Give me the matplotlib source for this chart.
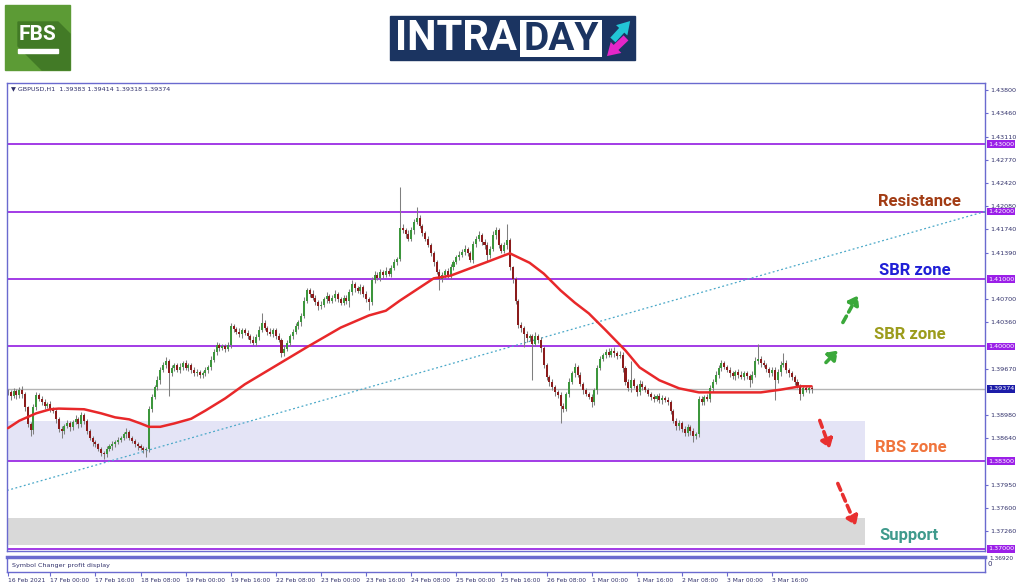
import numpy as np
import matplotlib.pyplot as plt
from matplotlib.patches import Rectangle, Polygon

# prices stored as pips above 1.38000
BASE = 1.38
FIRST_OPEN = 133

close_pips = [
    132, 126, 134, 128, 136, 129, 110, 85, 76, 110, 128, 122, 118, 112, 115, 108, 105, 92, 78, 75,
    82, 86, 80, 88, 92, 85, 98, 90, 75, 65, 58, 55, 48, 42, 40, 48, 52, 55, 58, 62,
    65, 70, 74, 65, 60, 55, 52, 50, 46, 48, 108, 125, 140, 150, 165, 172, 178, 160, 168, 172,
    165, 170, 175, 168, 172, 165, 160, 162, 158, 160, 165, 170, 180, 192, 202, 198, 200, 196, 202, 230,
    226, 222, 218, 224, 220, 215, 210, 205, 214, 225, 235, 228, 222, 218, 224, 216, 210, 190, 196, 205,
    215, 222, 230, 236, 245, 268, 283, 278, 272, 266, 260, 262, 270, 275, 268, 272, 278, 270, 265, 272,
    268, 280, 292, 286, 282, 288, 278, 270, 266, 298, 306, 302, 310, 306, 312, 308, 316, 325, 330, 376,
    372, 366, 360, 372, 385, 390, 378, 368, 360, 350, 338, 325, 310, 300, 306, 312, 304, 318, 325, 332,
    336, 340, 345, 338, 328, 352, 360, 365, 355, 350, 335, 345, 365, 372, 350, 342, 350, 358, 318, 300,
    268, 232, 228, 218, 212, 215, 204, 215, 210, 198, 172, 155, 148, 140, 132, 128, 112, 108, 130, 148,
    160, 170, 158, 145, 135, 130, 125, 118, 135, 168, 182, 188, 192, 188, 194, 190, 186, 188, 168, 148,
    138, 150, 142, 132, 145, 140, 135, 130, 125, 122, 126, 120, 124, 121, 118, 105, 90, 82, 86, 78,
    72, 80, 75, 68, 70, 122, 118, 125, 122, 138, 148, 158, 168, 175, 170, 165, 160, 156, 162, 158,
    155, 160, 156, 150, 158, 178, 182, 175, 172, 166, 160, 165, 150, 162, 172, 176, 165, 160, 155, 148,
    142, 130, 138, 135, 138.3, 137.4,
]

up_wick = [
    4, 3, 5, 3, 4, 6, 3, 2, 3, 5, 4, 3, 5, 4, 3, 4, 3, 2, 3, 4,
    3, 5, 4, 3, 6, 3, 5, 4, 2, 3, 3, 4, 2, 3, 3, 4, 3, 5, 3, 4,
    3, 4, 5, 3, 2, 3, 4, 3, 2, 3, 4, 5, 3, 6, 4, 5, 6, 4, 5, 3,
    4, 6, 3, 5, 4, 3, 4, 5, 3, 4, 5, 3, 6, 4, 5, 3, 4, 3, 4, 5,
    4, 3, 5, 4, 3, 4, 3, 5, 4, 6, 14, 4, 3, 5, 4, 3, 4, 3, 4, 5,
    3, 4, 5, 3, 4, 5, 4, 3, 5, 4, 3, 6, 4, 5, 3, 4, 6, 3, 4, 5,
    4, 5, 6, 3, 4, 5, 3, 4, 3, 5, 6, 4, 5, 3, 6, 4, 5, 4, 3, 60,
    5, 4, 6, 5, 4, 16, 5, 4, 3, 4, 3, 4, 3, 5, 4, 3, 5, 4, 3, 4,
    5, 4, 6, 3, 4, 5, 4, 6, 3, 4, 5, 4, 6, 5, 3, 4, 5, 24, 3, 2,
    3, 2, 4, 3, 5, 3, 4, 6, 3, 4, 3, 4, 3, 4, 3, 4, 5, 4, 3, 5,
    4, 6, 3, 4, 3, 4, 3, 5, 4, 5, 4, 3, 5, 6, 4, 5, 3, 6, 4, 3,
    4, 29, 4, 3, 5, 4, 3, 4, 3, 4, 3, 5, 4, 3, 4, 3, 3, 4, 5, 3,
    4, 5, 3, 4, 3, 5, 4, 3, 4, 5, 4, 6, 4, 5, 4, 3, 5, 4, 3, 4,
    5, 3, 4, 3, 5, 6, 22, 4, 5, 4, 3, 4, 5, 4, 6, 14, 4, 3, 4, 3,
    4, 3, 4, 3, 3, 3.1,
]

dn_wick = [
    4, 5, 3, 6, 4, 5, 6, 4, 8, 5, 4, 3, 5, 4, 3, 5, 4, 6, 5, 11,
    4, 3, 5, 4, 3, 6, 4, 5, 4, 3, 5, 4, 3, 4, 6, 4, 3, 5, 4, 3,
    4, 3, 5, 4, 3, 4, 5, 3, 4, 9, 4, 5, 3, 4, 5, 3, 4, 33, 4, 5,
    3, 4, 5, 3, 4, 5, 4, 3, 5, 4, 3, 4, 5, 3, 4, 5, 3, 4, 3, 4,
    5, 3, 4, 5, 3, 4, 5, 3, 4, 5, 3, 4, 5, 3, 4, 5, 4, 6, 4, 3,
    5, 4, 3, 4, 5, 3, 4, 5, 3, 4, 6, 4, 3, 5, 4, 3, 5, 4, 3, 4,
    5, 10, 4, 5, 3, 4, 5, 4, 12, 5, 4, 3, 5, 4, 3, 4, 5, 3, 4, 4,
    4, 5, 3, 4, 5, 4, 3, 5, 4, 3, 4, 5, 3, 17, 4, 5, 3, 4, 5, 3,
    4, 3, 5, 4, 3, 4, 5, 3, 4, 5, 8, 4, 3, 5, 4, 3, 4, 5, 4, 6,
    5, 4, 6, 19, 5, 4, 54, 4, 5, 6, 4, 5, 6, 4, 5, 4, 26, 5, 4, 5,
    4, 5, 3, 4, 5, 4, 3, 8, 4, 5, 3, 4, 5, 3, 4, 5, 4, 3, 6, 5,
    4, 5, 3, 6, 4, 5, 3, 4, 5, 4, 3, 4, 5, 3, 4, 5, 4, 6, 5, 4,
    5, 4, 6, 10, 5, 4, 5, 4, 3, 4, 5, 3, 4, 5, 4, 3, 5, 4, 6, 4,
    3, 5, 4, 10, 4, 3, 4, 5, 3, 4, 5, 4, 30, 4, 5, 3, 4, 5, 4, 5,
    4, 10, 4, 3, 4, 5.6,
]

# moving average read at a subset of bars
ma_bar = [0, 4, 10, 15, 18, 27, 33, 38, 43, 47, 50, 54, 59, 65, 70, 77, 84, 92, 98, 106,
          118, 128, 134, 139, 143, 151, 157, 164, 171, 176, 178, 185, 190, 196, 201, 206,
          212, 219, 224, 231, 238, 245, 252, 260, 267, 274, 281, 285]
ma_pips = [79, 90, 101, 107, 108, 107, 101, 95, 92, 86, 81, 81, 86, 93, 105, 123, 144, 164, 179, 199,
           228, 246, 253, 268, 279, 301, 305, 316, 327, 335, 338, 324, 308, 283, 265, 249,
           224, 194, 169, 150, 138, 132, 132, 132, 132, 136, 141, 141]

levels = [1.43, 1.42, 1.41, 1.40, 1.383, 1.37]
last_price = 1.39374
trend_bars = [-0.35, 346.5]
trend_prices = [1.37867, 1.42]
rbs_zone = (1.383, 1.38889)
support_zone = (1.37052, 1.37452)
zone_end_bar = 304

# right-axis grid labels (the ones hidden behind level boxes are left out)
y_ticks = [1.4380, 1.4346, 1.4311, 1.4277, 1.4242, 1.4208, 1.4174, 1.4139, 1.4070,
           1.4036, 1.3967, 1.3898, 1.3864, 1.3795, 1.3760, 1.3726]
x_tick_bars = [0, 15, 31, 47, 63, 79, 95, 111, 127, 143, 159, 175, 191, 207, 223, 239, 255, 271]
x_tick_labels = ['16 Feb 2021', '17 Feb 00:00', '17 Feb 16:00', '18 Feb 08:00', '19 Feb 00:00',
                 '19 Feb 16:00', '22 Feb 08:00', '23 Feb 00:00', '23 Feb 16:00', '24 Feb 08:00',
                 '25 Feb 00:00', '25 Feb 16:00', '26 Feb 08:00', '1 Mar 00:00', '1 Mar 16:00',
                 '2 Mar 08:00', '3 Mar 00:00', '3 Mar 16:00']

zone_texts = ['Resistance', 'SBR zone', 'SBR zone', 'RBS zone', 'Support']
zone_text_bars = [323.4, 321.6, 319.9, 320.2, 319.5]
zone_text_prices = [1.42148, 1.41126, 1.40178, 1.38504, 1.37193]
zone_text_colors = ['#a23c14', '#1f1fd6', '#9c9c1c', '#f0743c', '#3f9a8c']

arrow_tails = [(296.1, 1.40356), (290.1, 1.39763), (287.9, 1.38904), (294.3, 1.37970)]
arrow_heads = [(301.4, 1.40756), (294.3, 1.39941), (291.5, 1.38489), (300.7, 1.37348)]
arrow_colors = ['#3aa83a', '#3aa83a', '#e83030', '#e83030']

LINE = '#a23be6'
FRAME = '#6a6acf'
TXT = '#30306a'

# build OHLC
c = BASE + np.array(close_pips) / 10000
o = BASE + np.array([FIRST_OPEN] + close_pips[:-1]) / 10000
h = np.maximum(o, c) + np.array(up_wick) / 10000
l = np.minimum(o, c) - np.array(dn_wick) / 10000
idx = np.arange(len(c))

W, H = 1024, 587
fig = plt.figure(figsize=(W / 100, H / 100), dpi=100)
fig.patch.set_facecolor('white')

ax = fig.add_axes([7 / W, 1 - 551 / H, 978 / W, 468 / H])
ax.set_xlim(-0.35, 346.5)
ax.set_ylim(1.3697, 1.43904)

ax.fill_between([-0.35, zone_end_bar], *rbs_zone, color='#e4e4f6', lw=0, zorder=0.5)
ax.fill_between([-0.35, zone_end_bar], *support_zone, color='#d9d9d9', lw=0, zorder=0.5)
for lv in levels:
    ax.axhline(lv, color=LINE, lw=1.4, zorder=1)
ax.axhline(last_price, color='#b4b4b4', lw=1, zorder=1)
ax.plot(trend_bars, trend_prices, ls=(0, (1.5, 2)), color='#4aa8c8', lw=0.9, zorder=1.5)

# candles
ax.vlines(idx, l, h, color='#7f7f7f', lw=0.75, zorder=2)
body = np.maximum(np.abs(c - o), 0.00004)
cols = np.where(c >= o, '#3c963c', '#8b1c1c')
ax.bar(idx, body, bottom=np.minimum(o, c), width=0.72, color=cols, zorder=2.5)

ma_price = BASE + np.array(ma_pips) / 10000
ax.plot(ma_bar, ma_price, color='#e8282a', lw=1.8, zorder=3, solid_capstyle='round')

for t, bx, py, col in zip(zone_texts, zone_text_bars, zone_text_prices, zone_text_colors):
    ax.text(bx, py, t, color=col, fontsize=12, fontweight='bold', family='Roboto',
            ha='center', va='center', zorder=5)

for tail, head, col in zip(arrow_tails, arrow_heads, arrow_colors):
    ax.annotate('', xy=head, xytext=tail,
                arrowprops=dict(arrowstyle='-|>,head_width=0.35,head_length=0.5',
                                ls=(0, (2, 1.3)), lw=2.6, color=col, shrinkA=0, shrinkB=0))

ax.text(0.004, 0.992, '\u25bc GBPUSD,H1  1.39383 1.39414 1.39318 1.39374', transform=ax.transAxes,
        fontsize=4.6, color=TXT, ha='left', va='top')

# axes styling
for s in ax.spines.values():
    s.set_color(FRAME)
    s.set_linewidth(1)
ax.yaxis.tick_right()
ax.set_yticks(y_ticks)
ax.set_yticklabels([f'{t:.5f}' for t in y_ticks])
ax.tick_params(axis='y', labelsize=4.6, labelcolor=TXT, color=FRAME, length=2, pad=2)
ax.set_xticks([])

ybox = ax.get_yaxis_transform()
for lv in levels:
    ax.text(1.003, lv, f'{lv:.5f}', transform=ybox, fontsize=4.6, color='white', ha='left', va='center',
            bbox=dict(facecolor='#9b1fe8', edgecolor='none', pad=0.9), clip_on=False, zorder=10)
ax.text(1.003, last_price, f'{last_price:.5f}', transform=ybox, fontsize=4.6, color='white',
        ha='left', va='center', bbox=dict(facecolor='#1c1ca8', edgecolor='none', pad=0.9),
        clip_on=False, zorder=10)
ax.text(1.004, 1.3690, '1.36920', transform=ybox, fontsize=4.2, color=TXT, ha='left', va='top',
        clip_on=False)

# indicator sub-window
ax2 = fig.add_axes([7 / W, 1 - 572 / H, 978 / W, 15 / H])
ax2.set_xlim(-0.35, 346.5)
ax2.set_ylim(-1, 1)
for s in ax2.spines.values():
    s.set_color(FRAME)
    s.set_linewidth(1)
ax2.spines['top'].set_linewidth(2.5)
ax2.text(0.005, 0.4, 'Symbol Changer profit display', transform=ax2.transAxes, fontsize=4.6,
         color=TXT, ha='left', va='center')
ax2.yaxis.tick_right()
ax2.set_yticks([0.2])
ax2.set_yticklabels(['0'])
ax2.tick_params(axis='y', labelsize=5, labelcolor=TXT, length=0, pad=2)
ax2.set_xticks(x_tick_bars)
ax2.set_xticklabels(x_tick_labels, ha='left')
ax2.tick_params(axis='x', labelsize=4.3, labelcolor=TXT, color=FRAME, length=3, pad=1)

# logos
ov = fig.add_axes([0, 0, 1, 1])
ov.set_xlim(0, W)
ov.set_ylim(H, 0)
ov.axis('off')
ov.add_patch(Rectangle((5, 5), 65, 65, color='#5c9b35'))
ov.add_patch(Polygon([(18, 22), (58, 22), (70, 34), (70, 70), (42, 70), (18, 46)], color='#427a26'))
ov.text(38, 34, 'FBS', color='white', fontsize=15, fontweight='bold', family='Roboto',
        ha='center', va='center')
ov.add_patch(Rectangle((18, 49), 40, 4, color='white'))

ov.add_patch(Rectangle((390, 16), 245, 44, color='#1b3461'))
ov.text(395, 39, 'INTRA', color='white', fontsize=30, fontweight='bold', family='Roboto',
        ha='left', va='center')
ov.add_patch(Rectangle((520, 20), 82, 37, facecolor='white', edgecolor='none'))
ov.text(561, 39, 'DAY', color='#1b3461', fontsize=28, fontweight='bold', family='Roboto',
        ha='center', va='center')
ov.annotate('', xy=(632, 19), xytext=(611, 42),
            arrowprops=dict(arrowstyle='simple,head_width=1.1,head_length=0.9,tail_width=0.5',
                            color='#22c6d6', lw=0))
ov.annotate('', xy=(605, 58), xytext=(628, 36),
            arrowprops=dict(arrowstyle='simple,head_width=1.1,head_length=0.9,tail_width=0.5',
                            color='#e426c8', lw=0))

fig.savefig('out.png', dpi=100)
